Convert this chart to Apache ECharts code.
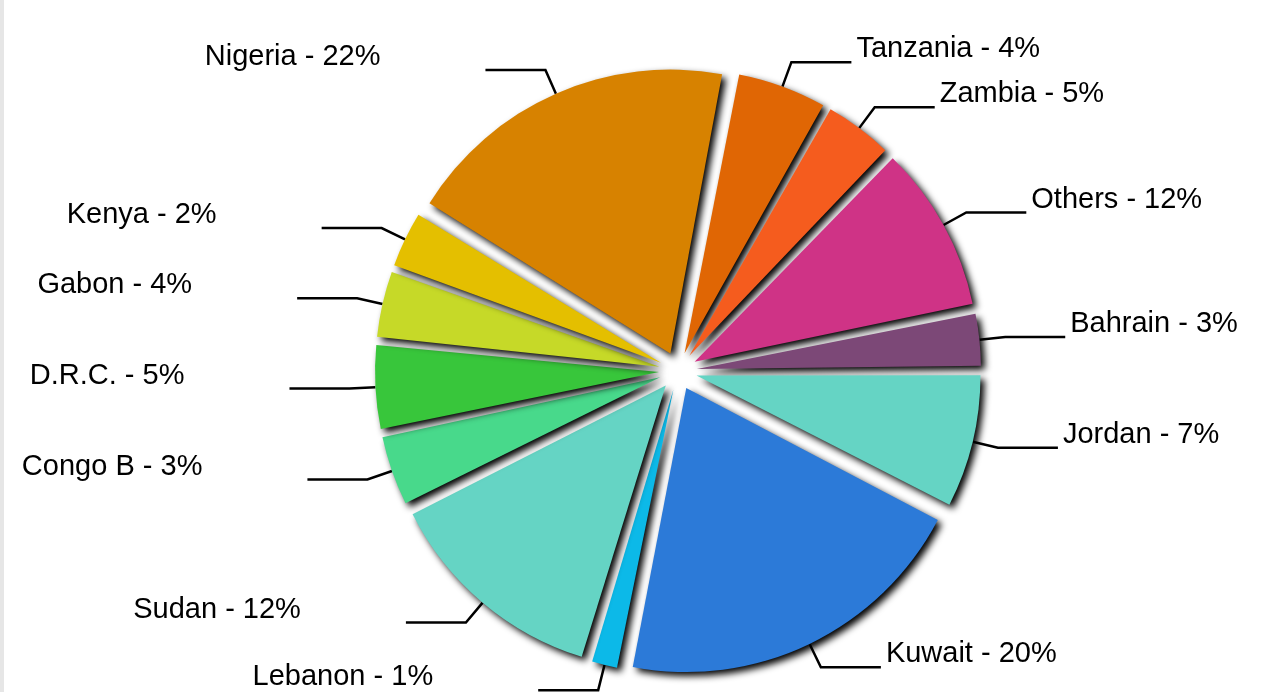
<!DOCTYPE html>
<html>
<head>
<meta charset="utf-8">
<title>Pie</title>
<script src="https://cdn.jsdelivr.net/npm/echarts@6/dist/echarts.min.js"></script>
<style>
    html, body { margin: 0; padding: 0; background: #fff; }
    #chart { width: 1275px; height: 692px; }
    #edge { position: absolute; left: 0; top: 0; width: 4px; height: 692px; background: #e6e6e6; }
</style>
</head>
<body>
<div id="chart"></div>
<div id="edge"></div>
<script>
    // clockwise, starting just right of 12 o'clock
    var countries = ['Tanzania', 'Zambia', 'Others', 'Bahrain', 'Jordan', 'Kuwait', 'Lebanon',
        'Sudan', 'Congo B', 'D.R.C.', 'Gabon', 'Kenya', 'Nigeria'];
    // slice sizes as drawn (share of the circle, %)
    var shares = [5.2, 4.0, 9.6, 3.1, 7.7, 20.5, 1.6, 12.9, 4.1, 4.9, 3.9, 3.3, 19.2];
    // percentages as printed in the labels
    var printedPct = [4, 5, 12, 3, 7, 20, 1, 12, 3, 5, 4, 2, 22];
    var colors = ['#e06604', '#f55c1e', '#cf3386', '#7c4877', '#65d4c4', '#2c7ad8', '#0cb9e8',
        '#65d4c4', '#48d98b', '#38c63b', '#c6d928', '#e4bf00', '#d78200'];

    var CX = 678, CY = 371;
    var chart = echarts.init(document.getElementById('chart'));

    chart.setOption({
        animation: false,
        series: [{
            type: 'pie',
            center: [CX, CY],
            radius: 284,
            startAngle: 79.2,
            padAngle: 0.6,
            selectedMode: 'multiple',
            selectedOffset: 19,
            avoidLabelOverlap: false,
            data: countries.map(function (name, i) {
                return {name: name, value: shares[i], selected: true, itemStyle: {color: colors[i]}};
            }),
            itemStyle: {
                shadowBlur: 7,
                shadowColor: 'rgba(0, 0, 0, 1)',
                shadowOffsetX: 4,
                shadowOffsetY: 4
            },
            label: {
                formatter: function (p) {
                    return p.name + ' - ' + printedPct[p.dataIndex] + '%';
                },
                color: '#000',
                fontSize: 29,
                fontFamily: '"Liberation Sans", Arial, Helvetica, sans-serif'
            },
            labelLine: {
                length: 26,
                length2: 60,
                lineStyle: {color: '#000', width: 2.5}
            },
            // labels sit above the end of their leader line, the left ones further away
            labelLayout: function (p) {
                var r = p.labelRect;
                var onLeft = r.x + r.width / 2 < CX;
                return {
                    dx: onLeft ? -100 : 0,
                    dy: -13
                };
            },
            emphasis: {disabled: true}
        }]
    });
</script>
</body>
</html>
